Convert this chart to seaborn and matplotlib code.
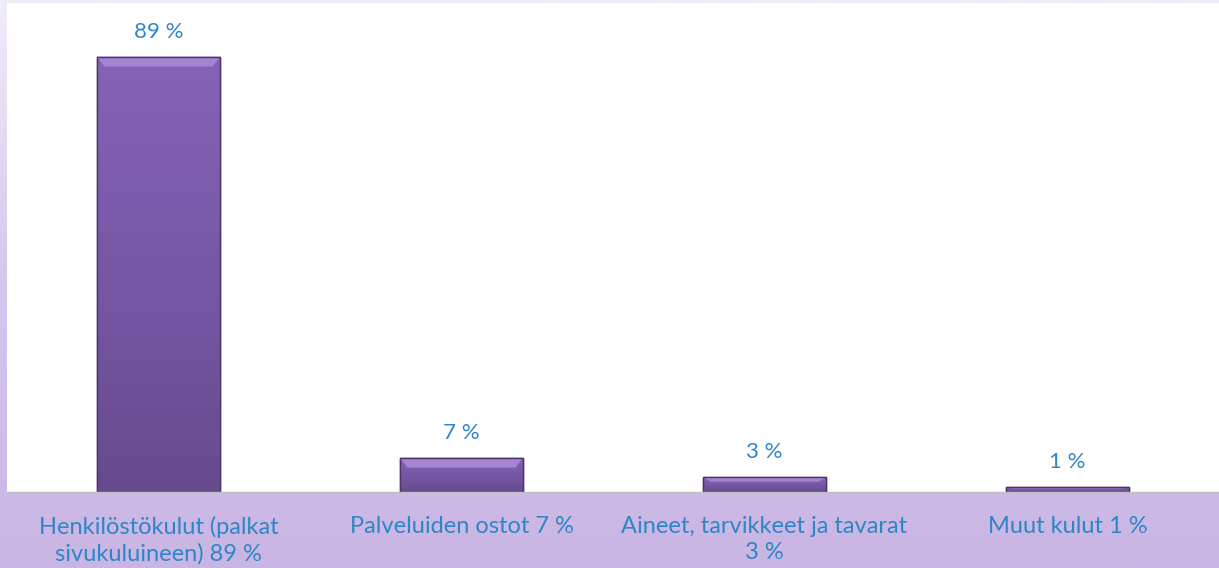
import numpy as np
import pandas as pd
import matplotlib
matplotlib.use("Agg")
import matplotlib.pyplot as plt
import seaborn as sns
from matplotlib.colors import LinearSegmentedColormap

categories = ["Henkilöstökulut (palkat\nsivukuluineen) 89 %",
              "Palveluiden ostot 7 %",
              "Aineet, tarvikkeet ja tavarat\n3 %",
              "Muut kulut 1 %"]
values = [89, 7, 3, 1]
value_labels = ["89 %", "7 %", "3 %", "1 %"]

df = pd.DataFrame({"kulu": categories, "osuus": values})

sns.set_style("white")
plt.rcParams["font.family"] = ["Lato", "DejaVu Sans"]

blue = "#2f86c6"

fig = plt.figure(figsize=(12.19, 5.68), dpi=100)

# slide background gradient
bg = fig.add_axes([0, 0, 1, 1], zorder=-10)
bg_cmap = LinearSegmentedColormap.from_list("bg", ["#f1ecf9", "#d6c6ec", "#c9b5e3"])
bg.imshow(np.linspace(0, 1, 256).reshape(-1, 1), aspect="auto", cmap=bg_cmap,
          extent=[0, 1, 0, 1])
bg.axis("off")

ax = fig.add_axes([7 / 1219, 76 / 568, 1212 / 1219, 489 / 568])
ax.set_facecolor("white")

sns.barplot(data=df, x="kulu", y="osuus", ax=ax, color="#7a58a8", width=0.405,
            edgecolor="#4b3569", linewidth=1.0, saturation=1)

bar_cmap = LinearSegmentedColormap.from_list("bar", ["#674a8e", "#7857a6", "#8662b6"])
for p, lab in zip(ax.patches, value_labels):
    x0, y0 = p.get_x(), p.get_y()
    w, h = p.get_width(), p.get_height()
    img = ax.imshow(np.linspace(0, 1, 100).reshape(-1, 1), cmap=bar_cmap, origin="lower",
                    extent=[x0, x0 + w, y0, y0 + h], aspect="auto", zorder=p.get_zorder() + 0.1)
    img.set_clip_path(p)
    # bevel highlight on top
    bev = min(h * 0.3, 2.0)
    ax.fill([x0, x0 + w, x0 + w - w * 0.06, x0 + w * 0.06],
            [y0 + h, y0 + h, y0 + h - bev, y0 + h - bev],
            color="#a585d2", zorder=p.get_zorder() + 0.2, lw=0)
    ax.add_patch(plt.Rectangle((x0, y0), w, h, fill=False, edgecolor="#4b3569",
                               lw=1.0, zorder=p.get_zorder() + 0.3))
    ax.annotate(lab, (x0 + w / 2, y0 + h), xytext=(0, 18), textcoords="offset points",
                ha="center", va="center", color=blue, fontsize=16)

ax.set_xlim(-0.5, 3.5)
ax.set_ylim(0, 100)
ax.set_yticks([])
ax.set_xlabel("")
ax.set_ylabel("")
ax.tick_params(axis="x", length=0, pad=17, labelsize=17, labelcolor=blue)
for t in ax.get_xticklabels():
    t.set_linespacing(1.3)
for s in ["top", "right", "left"]:
    ax.spines[s].set_visible(False)
ax.spines["bottom"].set_color("#c0c0c0")
ax.spines["bottom"].set_linewidth(1.0)

fig.savefig("out.png", dpi=100)
